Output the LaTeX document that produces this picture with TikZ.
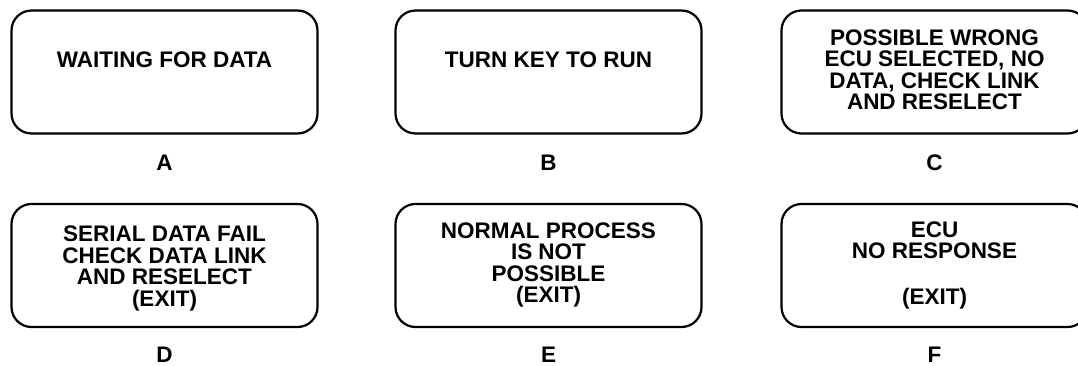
\documentclass[tikz,border=0pt]{standalone}
\usepackage{fontspec}
\setmainfont{Liberation Sans}
\begin{document}
\begin{tikzpicture}[x=1pt,y=-1pt,
  screen/.style={draw=black, line width=2.2pt, rounded corners=20pt, minimum width=306pt, minimum height=123pt, inner sep=0pt},
  msg/.style={font=\fontsize{22.5}{21.5}\selectfont\bfseries, align=center, inner sep=0pt},
  tag/.style={font=\fontsize{22.5}{21}\selectfont\bfseries, inner sep=0pt}]
\useasboundingbox (0,0) rectangle (1078,366);
\clip (0,0) rectangle (1078,366);
% row 1
\node[screen] (boxA) at (164.5,72) {};
\node[screen] (boxB) at (548.5,72) {};
\node[screen] (boxC) at (934.5,72) {};
\node[msg] (tA) at (164.5,59.5) {WAITING FOR DATA};
\node[msg] (tB) at (548.5,59.5) {TURN KEY TO RUN};
\node[msg] (tC) at (934.5,70) {POSSIBLE WRONG\\ECU SELECTED, NO\\DATA, CHECK LINK\\AND RESELECT};
\node[tag] (lA) at (164.5,162.5) {A};
\node[tag] (lB) at (548.5,162.5) {B};
\node[tag] (lC) at (934.5,162.5) {C};
% row 2
\node[screen] (boxD) at (164.5,265.5) {};
\node[screen] (boxE) at (548.5,265.5) {};
\node[screen] (boxF) at (934.5,265.5) {};
\node[msg] (tD) at (164.5,268.5) {SERIAL DATA FAIL\\CHECK DATA LINK\\AND RESELECT\\(EXIT)};
\node[msg] (tE) at (548.5,265) {NORMAL PROCESS\\IS NOT\\POSSIBLE\\(EXIT)};
\node[msg] (tF) at (934.5,265) {ECU\\NO RESPONSE\\[24pt](EXIT)};
\node[tag] (lD) at (164.5,355) {D};
\node[tag] (lE) at (548.5,355) {E};
\node[tag] (lF) at (934.5,355) {F};
\end{tikzpicture}
\end{document}
